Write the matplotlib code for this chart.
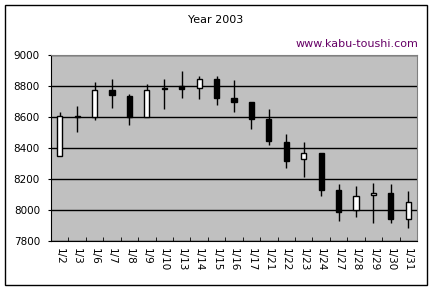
import numpy as np
import matplotlib.pyplot as plt
from matplotlib.patches import Rectangle

# daily prices, January 2003
dates = ["1/2", "1/3", "1/6", "1/7", "1/8", "1/9", "1/10", "1/13", "1/14", "1/15", "1/16",
         "1/17", "1/21", "1/22", "1/23", "1/24", "1/27", "1/28", "1/29", "1/30", "1/31"]
opens = [8346, 8600, 8602, 8774, 8735, 8598, 8790, 8798, 8789, 8845, 8723,
         8697, 8589, 8439, 8327, 8368, 8127, 7998, 8095, 8110, 7944]
closes = [8604, 8606, 8772, 8744, 8598, 8772, 8782, 8783, 8843, 8725, 8699,
          8589, 8447, 8318, 8366, 8131, 7989, 8090, 8110, 7942, 8052]
highs = [8632, 8671, 8826, 8845, 8750, 8813, 8845, 8897, 8865, 8865, 8839,
         8697, 8652, 8490, 8439, 8368, 8168, 8155, 8176, 8168, 8123]
lows = [8346, 8505, 8581, 8658, 8548, 8598, 8652, 8725, 8718, 8679, 8634,
        8525, 8421, 8273, 8215, 8092, 7931, 7957, 7918, 7918, 7886]

fig = plt.figure(figsize=(4.32, 2.88), dpi=100)
fig.patches.append(Rectangle((5 / 432, 3 / 288), 422 / 432, 280 / 288,
                             transform=fig.transFigure, fill=False,
                             edgecolor="black", linewidth=1))

ax = fig.add_axes([51 / 432, 47 / 288, 366 / 432, 186 / 288])
ax.set_facecolor("#c0c0c0")

x = np.arange(len(dates))
o = np.array(opens)
c = np.array(closes)

# wicks
ax.vlines(x, lows, highs, color="black", linewidth=1, zorder=3)

# bodies
bottom = np.minimum(o, c)
height = np.maximum(np.abs(c - o), 4)
colors = ["white" if cc >= oo else "black" for oo, cc in zip(o, c)]
ax.bar(x, height, bottom=bottom, width=0.3, color=colors,
       edgecolor="black", linewidth=1, zorder=4)

ax.set_xlim(-0.5, len(dates) - 0.5)
ax.set_ylim(7800, 9000)
ax.set_yticks(np.arange(7800, 9001, 200))
ax.yaxis.grid(True, color="black", linewidth=1)
ax.set_axisbelow(True)

ax.set_xticks(x)
ax.set_xticklabels(dates, rotation=-90, fontsize=7.5)
ax.set_xticks(np.arange(0.5, len(dates) - 1, 1), minor=True)
ax.tick_params(axis="x", which="major", length=0, pad=5)
ax.tick_params(axis="x", which="minor", direction="in", length=3, color="black")
ax.tick_params(axis="y", length=2, pad=6, labelsize=7.5)

for side in ["top", "right"]:
    ax.spines[side].set_color("#808080")
for side in ["left", "bottom"]:
    ax.spines[side].set_color("black")

fig.text(216 / 432, 1 - 20 / 288, "Year 2003", ha="center", va="center", fontsize=8)
fig.text(418 / 432, 1 - 44 / 288, "www.kabu-toushi.com", ha="right", va="center",
         fontsize=8, color="#660066")

plt.savefig("out.png", dpi=100)
